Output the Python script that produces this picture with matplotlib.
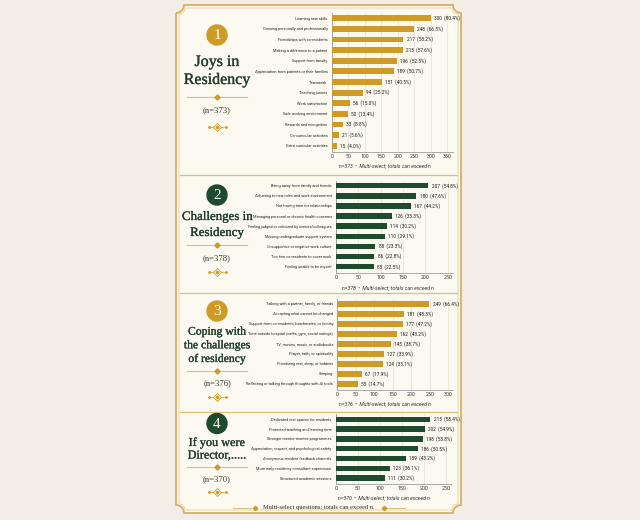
import numpy as np
import matplotlib
matplotlib.use("Agg")
import matplotlib.pyplot as plt
import matplotlib.patheffects as pe
from matplotlib.patches import Circle, PathPatch
from matplotlib.path import Path

# ---------------- data ----------------
joys_labels = ["Learning new skills", "Growing personally and professionally",
               "Friendships with co-residents", "Making a difference to a patient",
               "Support from faculty", "Appreciation from patients or their families",
               "Teamwork", "Teaching juniors", "Work satisfaction",
               "Safe working environment", "Rewards and recognition",
               "Co-curricular activities", "Extra curricular activities"]
joys_vals = [300, 248, 217, 215, 196, 189, 151, 94, 56, 50, 33, 21, 15]
joys_pct = [80.4, 66.5, 58.2, 57.6, 52.5, 50.7, 40.5, 25.2, 15.0, 13.4, 8.8, 5.6, 4.0]
joys_ticks = [0, 50, 100, 150, 200, 250, 300, 350]

chal_labels = ["Being away from family and friends",
               "Adjusting to new roles and work environment",
               "Not having time for relationships",
               "Managing personal or chronic health concerns",
               "Feeling judged or criticized by seniors/colleagues",
               "Missing undergraduate support system",
               "Unsupportive or negative work culture",
               "Too few co-residents to cover work",
               "Feeling unable to be myself"]
chal_vals = [207, 180, 167, 126, 114, 110, 88, 86, 85]
chal_pct = [54.8, 47.6, 44.2, 33.3, 30.2, 29.1, 23.3, 22.8, 22.5]
chal_ticks = [0, 50, 100, 150, 200, 250]

cope_labels = ["Talking with a partner, family, or friends",
               "Accepting what cannot be changed",
               "Support from co-residents, batchmates, or faculty",
               "Time outside hospital (cafés, gym, social outings)",
               "TV, movies, music, or audiobooks",
               "Prayer, faith, or spirituality",
               "Prioritizing rest, sleep, or hobbies",
               "Sleeping",
               "Reflecting or talking through thoughts with AI tools"]
cope_vals = [249, 181, 177, 162, 145, 127, 124, 67, 55]
cope_pct = [66.4, 48.3, 47.2, 43.2, 38.7, 33.9, 33.1, 17.9, 14.7]
cope_ticks = [0, 50, 100, 150, 200, 250, 300]

dir_labels = ["Dedicated rest spaces for residents",
              "Protected teaching and learning time",
              "Stronger mentor-mentee programmes",
              "Appreciation, respect, and psychological safety",
              "Anonymous resident feedback channels",
              "More early-residency consultant supervision",
              "Structured academic sessions"]
dir_vals = [215, 202, 198, 186, 159, 123, 111]
dir_pct = [58.4, 54.9, 53.8, 50.5, 43.2, 36.1, 30.2]
dir_ticks = [0, 50, 100, 150, 200, 250]

titles = ["Joys in\nResidency", "Challenges in\nResidency",
          "Coping with\nthe challenges\nof residency", "If you were\nDirector,....."]
ns = [373, 378, 376, 370]
footer = "Multi-select questions; totals can exceed n."

# ---------------- style ----------------
GOLD = "#cf9a25"
GREEN = "#1e4a2e"
TITLE_C = "#1f3d2a"
LINE_GOLD = "#dcbf80"
BG_OUT = "#f2eee6"
BG_IN = "#fcf9f1"
SERIF = ["Liberation Serif", "DejaVu Serif"]
SANS = ["Roboto", "DejaVu Sans"]

W, H = 640, 520
fig = plt.figure(figsize=(6.4, 5.2), dpi=100)
fig.patch.set_facecolor(BG_OUT)

ov = fig.add_axes([0, 0, 1, 1], zorder=0)
ov.set_xlim(0, W)
ov.set_ylim(H, 0)
ov.axis("off")


def notched_path(x0, y0, x1, y1, r):
    pts = []
    def arc(cx, cy, t0, t1):
        t = np.linspace(t0, t1, 12)
        return list(zip(cx + r * np.cos(t), cy + r * np.sin(t)))
    pts += arc(x0, y0, np.pi / 2, 0)
    pts += arc(x1, y0, np.pi, np.pi / 2)
    pts += arc(x1, y1, 3 * np.pi / 2, np.pi)
    pts += arc(x0, y1, 0, -np.pi / 2)
    pts.append(pts[0])
    return Path(pts)

# frame
fx0, fy0, fx1, fy1 = 176, 5, 461, 513
ov.add_patch(PathPatch(notched_path(fx0, fy0, fx1, fy1, 8), facecolor=BG_IN,
                       edgecolor="#d6b066", lw=1.3, zorder=1))
ov.add_patch(PathPatch(notched_path(fx0 + 3, fy0 + 3, fx1 - 3, fy1 - 3, 6),
                       facecolor="none", edgecolor="#e6cf9c", lw=0.6, zorder=1))

# section dividers
for yd in [175, 293, 411.7]:
    ov.plot([180, 457], [yd, yd], color=LINE_GOLD, lw=0.9, zorder=2)


def ornament(cx, cy):
    ov.plot([cx - 8, cx - 4], [cy, cy], color=GOLD, lw=0.5, zorder=3)
    ov.plot([cx + 4, cx + 8], [cy, cy], color=GOLD, lw=0.5, zorder=3)
    ov.plot([cx], [cy], marker="D", ms=4.2, mfc="none", mec=GOLD, mew=0.6, zorder=3)
    ov.plot([cx], [cy], marker="D", ms=1.4, mfc=GOLD, mec=GOLD, zorder=3)
    ov.plot([cx - 8.5, cx + 8.5], [cy, cy], ls="none", marker="o", ms=1.0,
            mfc=GOLD, mec=GOLD, zorder=3)


thick = [pe.withStroke(linewidth=0.2, foreground=TITLE_C)]


def left_block(num, color, cy_circle, title, title_ys, tsize, div_y, n, n_y, orn_y, cx=217):
    ov.add_patch(Circle((cx, cy_circle), 10.7, facecolor=color, edgecolor="none", zorder=3))
    ov.text(cx, cy_circle + 0.5, str(num), color="white", fontsize=11, family=SERIF,
            ha="center", va="center", zorder=4)
    for line, yy in zip(title.split("\n"), title_ys):
        ov.text(cx, yy, line, color=TITLE_C, fontsize=tsize, family=SERIF,
                ha="center", va="center", zorder=4, path_effects=thick)
    ov.plot([187, 247], [div_y, div_y], color=LINE_GOLD, lw=0.8, zorder=3)
    ov.plot([cx], [div_y], marker="D", ms=2.6, mfc=GOLD, mec=GOLD, zorder=4)
    ov.text(cx, n_y, f"(n={n})", color="#333333", fontsize=6.2, family=SERIF,
            ha="center", va="center", zorder=4)
    ornament(cx, orn_y)


left_block(1, GOLD, 35, titles[0], [62, 80], 11.5, 96.7, ns[0], 110, 126.7)
left_block(2, GREEN, 195, titles[1], [217, 233], 9.3, 245, ns[1], 258, 272)
left_block(3, GOLD, 311, titles[2], [331.7, 345.3, 359], 8.4, 371, ns[2], 383, 397)
left_block(4, GREEN, 423.5, titles[3], [443, 455.5], 8.8, 467.3, ns[3], 479.5, 491.5)


def chart(xl, xr, first, last, labels, vals, pct, color, ticks, note_x, note_y, n):
    k = len(labels)
    sp = (last - first) / (k - 1)
    top = first - 0.5 * sp
    bot = last + 0.6 * sp
    ax = fig.add_axes([xl / W, 1 - bot / H, (xr - xl) / W, (bot - top) / H], zorder=2)
    ax.patch.set_alpha(0)
    y = np.arange(k)
    ax.barh(y, vals, height=0.55, color=color, zorder=3)
    ax.set_ylim(k - 1 + 0.6, -0.5)
    ax.set_xlim(0, ticks[-1] * 1.045)
    ax.set_xticks(ticks)
    ax.set_yticks(y)
    ax.set_yticklabels(labels, fontsize=2.8, family=SANS, color="#222222")
    ax.tick_params(axis="y", length=0, pad=3)
    ax.tick_params(axis="x", length=0, pad=1.6, labelsize=3.8, labelcolor="#333333")
    for lab in ax.get_xticklabels():
        lab.set_family(SANS)
    for s in ["top", "right"]:
        ax.spines[s].set_visible(False)
    for s in ["left", "bottom"]:
        ax.spines[s].set_color("#9c9c9c")
        ax.spines[s].set_linewidth(0.6)
    ax.grid(axis="x", color="#e4e0d8", lw=0.5, zorder=0)
    ax.set_axisbelow(True)
    for i, (v, p) in enumerate(zip(vals, pct)):
        ax.annotate(f"{v}  ({p:.1f}%)", xy=(v, i), xytext=(2.3, 0),
                    textcoords="offset points", va="center", ha="left",
                    fontsize=3.4, family=SANS, color="#1a1a1a")
    ov.text(note_x, note_y, f"n={n}  •  Multi-select; totals can exceed n",
            fontsize=3.7, style="italic", family=SANS, color="#333333",
            ha="center", va="center", zorder=4)
    return ax


chart(331.7, 452.7, 18.3, 145.7, joys_labels, joys_vals, joys_pct, GOLD, joys_ticks, 385, 165.7, ns[0])
chart(336.0, 452.7, 185.7, 266.7, chal_labels, chal_vals, chal_pct, GREEN, chal_ticks, 388, 287.3, ns[1])
chart(337.3, 453.2, 304.0, 384.0, cope_labels, cope_vals, cope_pct, GOLD, cope_ticks, 385.3, 403.3, ns[2])
chart(335.7, 450.7, 419.3, 478.0, dir_labels, dir_vals, dir_pct, GREEN, dir_ticks, 383.8, 497.3, ns[3])

# footer
ov.text(319, 508, footer, fontsize=4.6, family=SERIF, color="#222222",
        ha="center", va="center", zorder=4)
ov.plot([233, 251], [508, 508], color=LINE_GOLD, lw=0.7, zorder=3)
ov.plot([387, 405], [508, 508], color=LINE_GOLD, lw=0.7, zorder=3)
ov.plot([255, 384], [508, 508], ls="none", marker="D", ms=2.2, mfc=GOLD, mec=GOLD, zorder=3)

fig.savefig("out.png", dpi=100, facecolor=fig.get_facecolor())
